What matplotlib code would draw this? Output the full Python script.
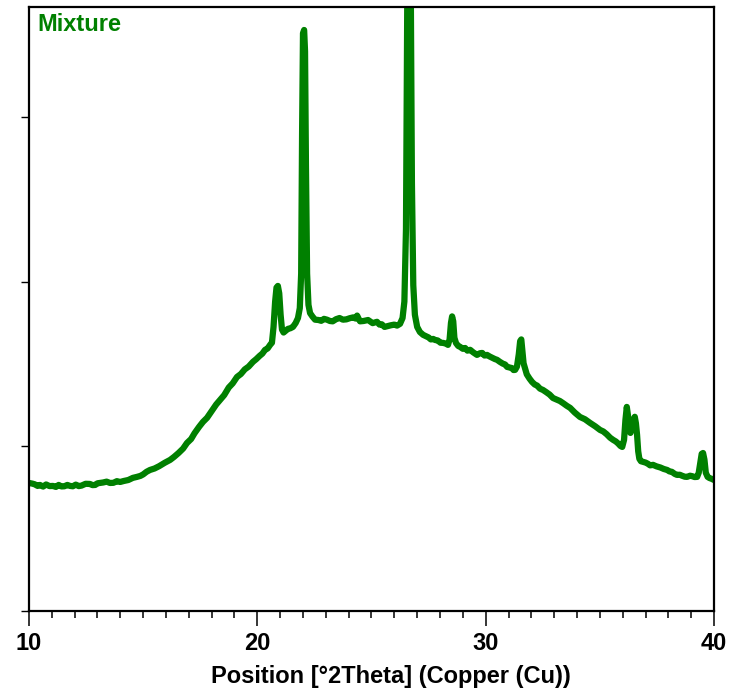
import matplotlib
matplotlib.use("Agg")
import matplotlib.pyplot as plt
from matplotlib.ticker import MultipleLocator

# XRD pattern (intensity in arbitrary units)
two_theta = [
    10.00, 10.15, 10.25, 10.38, 10.48, 10.62, 10.75, 10.90, 11.05, 11.18,
    11.30, 11.42, 11.55, 11.68, 11.80, 11.92, 12.05, 12.18, 12.30, 12.48,
    12.67, 12.78, 12.90, 13.00, 13.11, 13.25, 13.40, 13.55, 13.70, 13.85,
    13.99, 14.15, 14.35, 14.55, 14.73, 14.88, 15.00, 15.15, 15.30, 15.50,
    15.70, 15.95, 16.18, 16.35, 16.55, 16.75, 16.92, 17.10, 17.25, 17.45,
    17.62, 17.80, 18.00, 18.20, 18.37, 18.55, 18.75, 18.92, 19.11, 19.28,
    19.45, 19.62, 19.81, 19.95, 20.10, 20.22, 20.34, 20.45, 20.56, 20.64,
    20.71, 20.78, 20.84, 20.90, 20.96, 21.02, 21.08, 21.15, 21.25, 21.34,
    21.45, 21.56, 21.68, 21.78, 21.86, 21.92, 21.96, 22.00, 22.05, 22.09,
    22.13, 22.18, 22.24, 22.31, 22.42, 22.53, 22.68, 22.80, 22.92, 23.05,
    23.18, 23.30, 23.45, 23.60, 23.75, 23.90, 24.05, 24.20, 24.30, 24.37,
    24.44, 24.50, 24.65, 24.85, 25.05, 25.24, 25.35, 25.45, 25.57, 25.68,
    25.85, 26.00, 26.12, 26.25, 26.36, 26.44, 26.51, 26.57, 26.62, 26.67,
    26.72, 26.77, 26.83, 26.90, 27.00, 27.12, 27.26, 27.38, 27.50, 27.60,
    27.70, 27.80, 27.90, 28.02, 28.13, 28.25, 28.35, 28.42, 28.48, 28.53,
    28.58, 28.63, 28.70, 28.80, 28.88, 29.00, 29.10, 29.20, 29.32, 29.45,
    29.62, 29.75, 29.85, 29.95, 30.06, 30.18, 30.30, 30.40, 30.50, 30.62,
    30.75, 30.85, 30.94, 31.05, 31.15, 31.22, 31.29, 31.37, 31.45, 31.51,
    31.56, 31.61, 31.66, 31.72, 31.80, 31.92, 32.03, 32.15, 32.25, 32.38,
    32.51, 32.65, 32.80, 32.95, 33.13, 33.25, 33.40, 33.55, 33.70, 33.90,
    34.13, 34.35, 34.57, 34.80, 35.01, 35.15, 35.30, 35.45, 35.58, 35.70,
    35.80, 35.90, 35.98, 36.06, 36.12, 36.18, 36.23, 36.28, 36.34, 36.40,
    36.47, 36.53, 36.58, 36.63, 36.68, 36.73, 36.80, 36.90, 37.00, 37.10,
    37.20, 37.33, 37.48, 37.65, 37.80, 37.95, 38.05, 38.15, 38.28, 38.38,
    38.50, 38.60, 38.72, 38.82, 38.95, 39.05, 39.15, 39.26, 39.33, 39.40,
    39.46, 39.52, 39.58, 39.64, 39.72, 39.80, 39.90, 40.00,
]
intensity = [
    77.8, 77.4, 77.0, 76.0, 76.6, 75.6, 76.9, 75.9, 76.0, 75.4,
    76.6, 75.7, 75.8, 76.6, 76.0, 75.8, 76.8, 75.9, 76.2, 77.3,
    77.2, 76.5, 76.6, 77.6, 77.8, 78.1, 78.6, 77.8, 77.9, 78.9,
    78.4, 79.0, 79.6, 80.9, 81.5, 82.1, 83.0, 84.6, 85.7, 86.6,
    88.0, 90.1, 91.8, 93.6, 96.0, 98.7, 102.1, 104.5, 108.0, 111.9,
    114.9, 117.4, 121.5, 125.5, 128.3, 131.2, 135.8, 138.3, 142.2, 144.0,
    146.8, 148.5, 151.4, 153.0, 155.0, 156.4, 158.7, 159.5, 161.7, 163.0,
    172.6, 188.0, 196.5, 197.5, 193.0, 180.0, 171.0, 169.2, 170.4, 171.4,
    171.8, 172.6, 175.0, 178.0, 184.0, 205.0, 290.0, 351.0, 353.0, 340.0,
    270.0, 205.0, 186.0, 181.0, 178.8, 177.0, 176.8, 176.3, 177.5, 177.0,
    176.2, 176.0, 177.3, 178.0, 177.0, 177.2, 177.9, 178.4, 177.7, 179.5,
    177.5, 176.0, 176.2, 176.8, 174.9, 175.7, 174.0, 174.2, 172.6, 173.0,
    173.6, 174.0, 173.4, 174.5, 178.0, 188.0, 232.0, 380.0, 380.0, 380.0,
    380.0, 260.0, 198.0, 180.0, 172.6, 169.5, 167.8, 167.0, 166.2, 165.0,
    165.3, 164.6, 164.4, 163.0, 162.9, 162.5, 161.7, 165.0, 175.0, 179.0,
    176.0, 166.0, 162.8, 161.0, 160.5, 159.3, 159.8, 158.2, 158.7, 157.2,
    155.6, 156.6, 156.8, 155.2, 155.6, 154.6, 153.8, 153.1, 152.6, 151.4,
    150.3, 149.8, 148.3, 147.9, 147.6, 146.4, 146.5, 148.5, 156.0, 164.0,
    165.0, 158.0, 150.5, 147.7, 143.8, 141.2, 139.2, 137.6, 137.0, 135.1,
    134.3, 133.0, 131.5, 129.4, 128.3, 127.6, 126.2, 124.7, 123.4, 120.6,
    117.9, 116.5, 114.3, 112.2, 110.0, 109.1, 107.4, 105.3, 104.0, 103.0,
    101.8, 100.3, 99.7, 104.0, 116.0, 124.0, 119.0, 110.0, 108.2, 112.0,
    116.5, 118.0, 114.0, 107.0, 97.0, 92.5, 91.0, 90.6, 90.2, 89.5,
    88.5, 88.8, 87.9, 87.2, 86.3, 85.7, 84.8, 84.6, 83.3, 82.7,
    82.8, 82.2, 81.6, 81.5, 82.2, 81.9, 81.4, 81.5, 84.0, 90.0,
    95.5, 96.0, 92.0, 84.0, 81.5, 80.8, 80.3, 79.6,
]

green = "#008000"

fig = plt.figure(figsize=(7.39, 6.92), dpi=100)
ax = fig.add_axes([0.0392, 0.117, 0.927, 0.873])

ax.plot(two_theta, intensity, color=green, linewidth=4.5,
        solid_joinstyle="round", solid_capstyle="round")

ax.set_xlim(10, 40)
ax.set_ylim(0, 367)
ax.xaxis.set_major_locator(MultipleLocator(10))
ax.xaxis.set_minor_locator(MultipleLocator(1))
ax.yaxis.set_major_locator(MultipleLocator(100))
ax.set_yticklabels([])

ax.tick_params(axis="x", which="major", direction="out", length=11, width=1.1,
               pad=4, labelsize=17)
ax.tick_params(axis="x", which="minor", direction="out", length=5, width=1.1)
ax.tick_params(axis="y", which="major", direction="out", length=6, width=1.0)
for lab in ax.get_xticklabels():
    lab.set_fontweight("bold")
    lab.set_family("Liberation Sans")

for sp in ax.spines.values():
    sp.set_linewidth(1.6)

ax.set_xlabel("Position [°2Theta] (Copper (Cu))", fontsize=17,
              fontweight="bold", family="Liberation Sans")
ax.xaxis.set_label_coords(0.5285, -0.109)
ax.xaxis.label.set_va("center")

ax.text(0.012, 0.99, "Mixture", transform=ax.transAxes, ha="left", va="top",
        color=green, fontsize=17, fontweight="bold", family="Liberation Sans")

fig.savefig("out.png", dpi=100)
